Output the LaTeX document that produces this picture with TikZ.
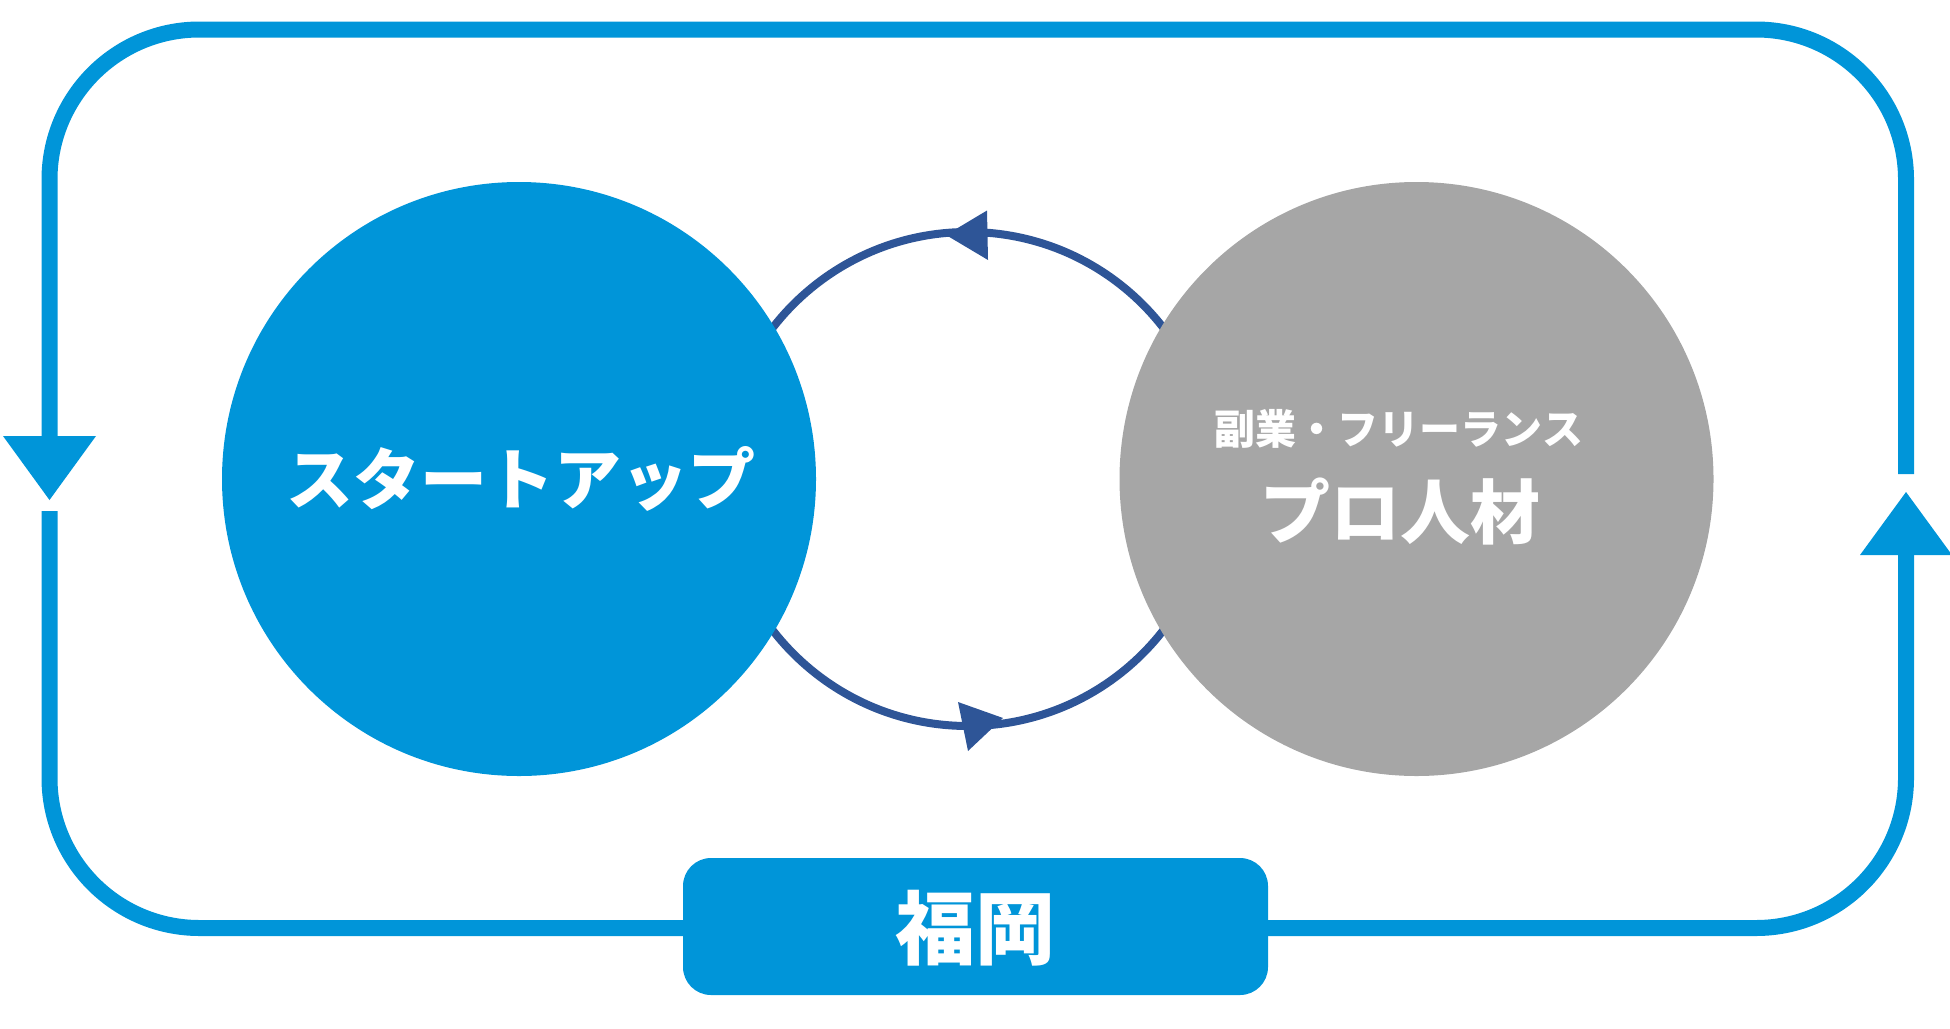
\documentclass[tikz,border=0pt]{standalone}
\usepackage{fontspec}
\newfontfamily\jp{Noto Sans CJK JP}
\definecolor{cblue}{HTML}{0095D9}
\definecolor{cgray}{HTML}{A6A6A6}
\definecolor{cdark}{HTML}{2E5597}
\begin{document}
\begin{tikzpicture}[x=1pt,y=1pt,
  bigcircle/.style={circle,minimum size=594pt,inner sep=0pt},
  lbl/.style={font=\jp\bfseries,text=white,inner sep=0pt},
  loopline/.style={draw=cblue,line width=16pt,rounded corners=150pt},
  cycline/.style={draw=cdark,line width=8pt}
]
\useasboundingbox (0,0) rectangle (1950,-1028);
% outer loop
\draw[loopline] (49.5,-511) -- (49.5,-928) -- (1906,-928) -- (1906,-555);
\draw[loopline] (1906,-474) -- (1906,-29.5) -- (49.5,-29.5) -- (49.5,-436);
\fill[cblue] (3,-436) -- (96,-436) -- (49.5,-500) -- cycle;
\fill[cblue] (1860,-555) -- (1952,-555) -- (1906,-492) -- cycle;
% inner cycle
\coordinate (cyc) at (968,-479);
\draw[cycline] (cyc) circle[radius=247pt];
\fill[cdark] (946,-235) -- (987,-210.5) -- (988,-260) -- cycle;
\fill[cdark] (1003,-718) -- (958,-702) -- (968,-751) -- cycle;
% circles
\node[bigcircle,fill=cblue] (start) at (519,-479) {};
\node[bigcircle,fill=cgray] (pro) at (1416.5,-479) {};
\node[lbl] (t1) at (521,-479) {\fontsize{67}{67}\selectfont スタートアップ};
\node[lbl] (t2) at (1399,-429) {\fontsize{41}{41}\selectfont 副業・フリーランス};
\node[lbl] (t3) at (1400,-512) {\fontsize{70}{70}\selectfont プロ人材};
% bottom box
\node[fill=cblue,rounded corners=28pt,minimum width=585pt,minimum height=137pt,inner sep=0pt] (fk) at (975.5,-926.5) {};
\node[lbl] (t4) at (975,-928) {\fontsize{80}{80}\selectfont 福岡};
\end{tikzpicture}
\end{document}
